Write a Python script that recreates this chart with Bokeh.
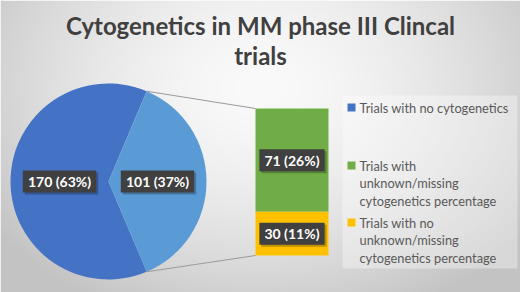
import numpy as np
from bokeh.plotting import figure
from bokeh.models import Range1d
from bokeh.core.properties import value
from bokeh.embed import file_html
from bokeh.resources import INLINE

# ---- data ----
title_lines = ["Cytogenetics in MM phase III Clincal", "trials"]
pie_categories = ["Trials with no cytogenetics", "Trials with cytogenetics"]
pie_values = [170, 101]
bar_categories = ["Trials with unknown/missing cytogenetics percentage",
                  "Trials with no unknown/missing cytogenetics percentage"]
bar_values = [71, 30]
legend_labels = ["Trials with no cytogenetics",
                 "Trials with\nunknown/missing\ncytogenetics percentage",
                 "Trials with no\nunknown/missing\ncytogenetics percentage"]
pie_colors = ["#4472C4", "#5B9BD5"]
bar_colors = ["#70AD47", "#FFC000"]
legend_colors = ["#4472C4", "#70AD47", "#FFC000"]

W, H = 520, 292
FONT = "Lato"
total = sum(pie_values)

def lab(v):
    return f"{v} ({round(100 * v / total)}%)"

p = figure(width=W, height=H, x_range=Range1d(0, W), y_range=Range1d(0, H),
           output_backend="svg", toolbar_location=None, min_border=0)
p.axis.visible = False
p.grid.visible = False
p.outline_line_color = None

# background radial gradient
yy, xx = np.mgrid[0:H, 0:W].astype(float)
d = np.sqrt(((xx - 260) / 300.0) ** 2 + ((yy - 205) / 230.0) ** 2)
g = np.clip(250 - 48 * d ** 1.6, 195, 250).astype(np.uint32)
img = (255 << 24) | (g << 16) | (g << 8) | g
p.image_rgba(image=[img.astype(np.uint32)], x=0, y=0, dw=W, dh=H)

# ---- pie ----
cx, cy, r = 108, 111, 98
half = np.pi * pie_values[1] / total
starts = [half, -half]
ends = [2 * np.pi - half, half]
p.wedge(x=[cx, cx], y=[cy, cy], radius=r, start_angle=starts, end_angle=ends,
        fill_color=pie_colors, line_color=None)
mids = [(s + e) / 2 for s, e in zip(starts, ends)]
pie_lx = [cx + 0.5 * r * np.cos(m) for m in mids]
pie_ly = [cy + 0.5 * r * np.sin(m) for m in mids]

# ---- bar of pie ----
bx, bw, by0, bh = 291.5, 73, 37, 147
scale = bh / sum(bar_values)
tops, bots = [], []
cur = by0 + bh
for v in bar_values:
    tops.append(cur)
    bots.append(cur - v * scale)
    cur -= v * scale
p.quad(left=bx - bw / 2, right=bx + bw / 2, top=tops, bottom=bots,
       fill_color=bar_colors, line_color=None)
bar_ly = [(t + b) / 2 for t, b in zip(tops, bots)]

# connector lines
ax, ay = cx + r * np.cos(half), cy + r * np.sin(half)
bx2, by2 = cx + r * np.cos(-half), cy + r * np.sin(-half)
p.segment(x0=[ax, bx2], y0=[ay, by2], x1=[bx - bw / 2] * 2, y1=[tops[0], bots[-1]],
          line_color="#9a9a9a", line_width=1)

# data labels
all_x = pie_lx + [bx] * len(bar_values)
all_y = pie_ly + bar_ly
all_t = [lab(v) for v in pie_values] + [lab(v) for v in bar_values]
widths = [8.1 * len(t) + 0.5 for t in all_t]
p.rect(x=[x + 2 for x in all_x], y=[y - 2 for y in all_y], width=widths, height=22,
       fill_color="#000000", fill_alpha=0.25, line_color=None)
p.rect(x=all_x, y=all_y, width=widths, height=22, fill_color="#404040", line_color=None)
p.text(x=all_x, y=all_y, text=all_t, text_align="center", text_baseline="middle",
       text_font=value(FONT), text_font_style="bold", text_font_size="14px",
       text_color="white")

# ---- legend ----
p.quad(left=342, right=517, top=197, bottom=24, fill_color="white", fill_alpha=0.35,
       line_color=None)
leg_y = [185, 127, 70]
p.rect(x=[351] * 3, y=leg_y, width=8, height=8, fill_color=legend_colors, line_color=None)
lx, ly, lt = [], [], []
for y0, t in zip(leg_y, legend_labels):
    for i, line in enumerate(t.split("\n")):
        lx.append(359)
        ly.append(y0 - 17.5 * i)
        lt.append(line)
p.text(x=lx, y=ly, text=lt, text_align="left", text_baseline="middle",
       text_font=value(FONT), text_font_size="12.8px", text_color="#595959")

# ---- title ----
p.text(x=[260, 260], y=[267, 237], text=title_lines, text_align="center",
       text_baseline="middle", text_font=value(FONT), text_font_style="bold",
       text_font_size="24px", text_color="#404040")

open("out.html", "w").write(file_html(p, INLINE))
